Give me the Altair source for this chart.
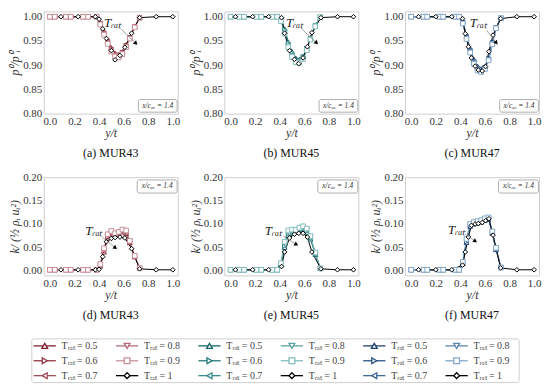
import altair as alt
import pandas as pd

# ---------------- data ----------------
AIRFOILS = ["MUR43", "MUR45", "MUR47"]
T_VALUES = ["0.5", "0.6", "0.7", "0.8", "0.9", "1"]
SHAPES = ["triangle-up", "triangle-right", "triangle-left", "triangle-down", "square", "diamond"]
COLORS = {
    "MUR43": ["#7d1f2c", "#8f3542", "#a04d59", "#b56b76", "#c98f98", "#000000"],
    "MUR45": ["#16666a", "#23787b", "#3a8b8d", "#5aa3a4", "#82bcbd", "#000000"],
    "MUR47": ["#1d3f6e", "#2a5282", "#3d6898", "#5b86b2", "#84a7cb", "#000000"],
}

X_BLACK = {
    "MUR43": [0.09, 0.23, 0.37, 0.40, 0.43, 0.46, 0.50, 0.53, 0.57, 0.61, 0.665, 0.73, 0.865, 1.0],
    "MUR45": [0.04, 0.18, 0.31, 0.415, 0.44, 0.48, 0.52, 0.555, 0.59, 0.625, 0.662, 0.735, 0.87, 1.0],
    "MUR47": [0.06, 0.20, 0.33, 0.418, 0.44, 0.466, 0.49, 0.52, 0.546, 0.578, 0.605, 0.632, 0.666, 0.728, 0.86, 1.0],
}
X_COLOURED = {
    "MUR43": [0.0, 0.04, 0.13, 0.17, 0.27, 0.31, 0.38, 0.41, 0.44, 0.47, 0.50, 0.53, 0.56, 0.59, 0.62, 0.65, 0.69, 0.73],
    "MUR45": [0.0, 0.07, 0.11, 0.21, 0.25, 0.34, 0.38, 0.41, 0.44, 0.47, 0.50, 0.53, 0.56, 0.59, 0.62, 0.65, 0.69, 0.73],
    "MUR47": [0.0, 0.10, 0.13, 0.23, 0.26, 0.36, 0.39, 0.42, 0.45, 0.48, 0.51, 0.54, 0.57, 0.60, 0.63, 0.66, 0.69, 0.73],
}

# total-pressure ratio p0/p0_i, T_rat = 0.5 ... 0.9, then 1
P_MUR43 = [
    [1, 1, 1, 1, 1, 1, 1, 0.988, 0.970, 0.952, 0.936, 0.925, 0.922, 0.928, 0.942, 0.958, 0.980, 0.998],
    [1, 1, 1, 1, 1, 1, 1, 0.987, 0.968, 0.950, 0.934, 0.923, 0.920, 0.926, 0.940, 0.957, 0.979, 0.998],
    [1, 1, 1, 1, 1, 1, 1, 0.986, 0.966, 0.948, 0.932, 0.921, 0.918, 0.925, 0.939, 0.956, 0.979, 0.998],
    [1, 1, 1, 1, 1, 1, 1, 0.985, 0.965, 0.946, 0.930, 0.919, 0.917, 0.924, 0.938, 0.955, 0.978, 0.998],
    [1, 1, 1, 1, 1, 1, 1, 0.984, 0.963, 0.944, 0.928, 0.918, 0.916, 0.923, 0.937, 0.955, 0.978, 0.998],
    [1.0, 1.0, 1.0, 0.995, 0.975, 0.955, 0.930, 0.911, 0.920, 0.937, 0.966, 0.998, 1.0, 1.0],
]
P_MUR45 = [
    [1, 1, 1, 1, 1, 1, 1, 0.995, 0.975, 0.948, 0.928, 0.915, 0.912, 0.918, 0.935, 0.955, 0.982, 0.999],
    [1, 1, 1, 1, 1, 1, 1, 0.994, 0.973, 0.945, 0.925, 0.913, 0.910, 0.917, 0.934, 0.955, 0.982, 0.999],
    [1, 1, 1, 1, 1, 1, 1, 0.993, 0.970, 0.942, 0.922, 0.910, 0.908, 0.915, 0.933, 0.954, 0.981, 0.999],
    [1, 1, 1, 1, 1, 1, 1, 0.992, 0.968, 0.940, 0.920, 0.908, 0.906, 0.914, 0.932, 0.953, 0.981, 0.999],
    [1, 1, 1, 1, 1, 1, 1, 0.991, 0.965, 0.937, 0.917, 0.906, 0.905, 0.913, 0.931, 0.953, 0.980, 0.999],
    [1.0, 1.0, 1.0, 0.998, 0.966, 0.930, 0.912, 0.903, 0.915, 0.938, 0.967, 0.998, 1.0, 1.0],
]
P_MUR47 = [
    [1, 1, 1, 1, 1, 1, 1, 0.990, 0.962, 0.935, 0.912, 0.898, 0.893, 0.897, 0.915, 0.948, 0.978, 0.997],
    [1, 1, 1, 1, 1, 1, 1, 0.989, 0.960, 0.932, 0.909, 0.895, 0.891, 0.895, 0.913, 0.946, 0.977, 0.997],
    [1, 1, 1, 1, 1, 1, 1, 0.988, 0.958, 0.930, 0.907, 0.893, 0.889, 0.894, 0.912, 0.945, 0.977, 0.997],
    [1, 1, 1, 1, 1, 1, 1, 0.987, 0.956, 0.928, 0.905, 0.891, 0.887, 0.893, 0.911, 0.944, 0.976, 0.997],
    [1, 1, 1, 1, 1, 1, 1, 0.986, 0.954, 0.926, 0.903, 0.889, 0.886, 0.892, 0.910, 0.943, 0.976, 0.997],
    [1.0, 1.0, 1.0, 0.996, 0.965, 0.938, 0.915, 0.898, 0.890, 0.888, 0.897, 0.928, 0.962, 0.996, 1.0, 1.0],
]

# turbulent kinetic energy k / (1/2 rho_i u_i^2)
K_MUR43 = [
    [0.002, 0.002, 0.002, 0.002, 0.002, 0.002, 0.002, 0.010, 0.040, 0.070, 0.080, 0.076, 0.079, 0.083, 0.080, 0.060, 0.030, 0.006],
    [0.002, 0.002, 0.002, 0.002, 0.002, 0.002, 0.002, 0.011, 0.042, 0.072, 0.081, 0.077, 0.080, 0.084, 0.081, 0.061, 0.030, 0.006],
    [0.002, 0.002, 0.002, 0.002, 0.002, 0.002, 0.002, 0.012, 0.044, 0.074, 0.082, 0.078, 0.082, 0.086, 0.082, 0.062, 0.031, 0.006],
    [0.002, 0.002, 0.002, 0.002, 0.002, 0.002, 0.002, 0.013, 0.046, 0.076, 0.084, 0.079, 0.083, 0.087, 0.084, 0.063, 0.031, 0.006],
    [0.002, 0.002, 0.002, 0.002, 0.002, 0.002, 0.002, 0.014, 0.048, 0.078, 0.085, 0.080, 0.083, 0.088, 0.086, 0.064, 0.032, 0.006],
    [0.002, 0.002, 0.002, 0.003, 0.030, 0.062, 0.069, 0.071, 0.072, 0.070, 0.047, 0.004, 0.002, 0.002],
]
K_MUR45 = [
    [0.002, 0.002, 0.002, 0.002, 0.002, 0.002, 0.002, 0.012, 0.050, 0.075, 0.080, 0.082, 0.084, 0.086, 0.082, 0.068, 0.035, 0.005],
    [0.002, 0.002, 0.002, 0.002, 0.002, 0.002, 0.002, 0.013, 0.053, 0.078, 0.082, 0.084, 0.087, 0.089, 0.085, 0.070, 0.036, 0.005],
    [0.002, 0.002, 0.002, 0.002, 0.002, 0.002, 0.002, 0.014, 0.056, 0.080, 0.084, 0.086, 0.089, 0.091, 0.087, 0.072, 0.037, 0.005],
    [0.002, 0.002, 0.002, 0.002, 0.002, 0.002, 0.002, 0.015, 0.059, 0.083, 0.086, 0.088, 0.091, 0.093, 0.089, 0.073, 0.038, 0.005],
    [0.002, 0.002, 0.002, 0.002, 0.002, 0.002, 0.002, 0.016, 0.062, 0.086, 0.088, 0.087, 0.092, 0.095, 0.090, 0.074, 0.039, 0.005],
    [0.002, 0.002, 0.002, 0.009, 0.040, 0.070, 0.078, 0.080, 0.080, 0.072, 0.040, 0.004, 0.002, 0.002],
]
K_MUR47 = [
    [0.002, 0.002, 0.002, 0.002, 0.002, 0.002, 0.002, 0.015, 0.060, 0.095, 0.100, 0.102, 0.104, 0.108, 0.110, 0.080, 0.045, 0.007],
    [0.002, 0.002, 0.002, 0.002, 0.002, 0.002, 0.002, 0.016, 0.062, 0.097, 0.101, 0.103, 0.105, 0.109, 0.111, 0.081, 0.046, 0.007],
    [0.002, 0.002, 0.002, 0.002, 0.002, 0.002, 0.002, 0.017, 0.064, 0.098, 0.102, 0.104, 0.106, 0.110, 0.112, 0.082, 0.047, 0.007],
    [0.002, 0.002, 0.002, 0.002, 0.002, 0.002, 0.002, 0.018, 0.066, 0.099, 0.103, 0.105, 0.107, 0.111, 0.113, 0.083, 0.048, 0.007],
    [0.002, 0.002, 0.002, 0.002, 0.002, 0.002, 0.002, 0.019, 0.068, 0.100, 0.104, 0.106, 0.108, 0.112, 0.114, 0.084, 0.049, 0.007],
    [0.002, 0.002, 0.002, 0.012, 0.040, 0.072, 0.097, 0.100, 0.101, 0.103, 0.107, 0.111, 0.076, 0.006, 0.002, 0.002],
]

P_DATA = {"MUR43": P_MUR43, "MUR45": P_MUR45, "MUR47": P_MUR47}
K_DATA = {"MUR43": K_MUR43, "MUR45": K_MUR45, "MUR47": K_MUR47}

CAPTIONS_P = ["(a) MUR43", "(b) MUR45", "(c) MUR47"]
CAPTIONS_K = ["(d) MUR43", "(e) MUR45", "(f) MUR47"]

# annotation placement (text pos, arrow start, arrow end, arrowhead angle)
ANN_P = {
    "MUR43": ((0.51, 0.988), (0.577, 0.975), (0.70, 0.945), 134),
    "MUR45": ((0.52, 0.988), (0.576, 0.976), (0.70, 0.946), 134),
    "MUR47": ((0.546, 0.988), (0.613, 0.972), (0.693, 0.946), 142),
}
ANN_K = {
    "MUR43": ((0.358, 0.085), (0.425, 0.072), (0.533, 0.049), 126),
    "MUR45": ((0.349, 0.085), (0.43, 0.074), (0.536, 0.056), 120),
    "MUR47": ((0.37, 0.087), (0.44, 0.078), (0.522, 0.063), 123),
}
BOX_P = (0.72, 1.035, 0.803, 0.829)
BOX_K = (0.71, 1.035, 0.166, 0.194)

SERIF = "Liberation Serif"

# ---------------- shared scales ----------------
keys, colors, shapes = [], [], []
for a in AIRFOILS:
    for i, t in enumerate(T_VALUES):
        keys.append(f"{a} {t}")
        colors.append(COLORS[a][i])
        shapes.append(SHAPES[i])
COLOR_SCALE = alt.Scale(domain=keys, range=colors)
SHAPE_SCALE = alt.Scale(domain=keys, range=shapes)


def build_df(airfoil, table):
    rows = []
    for i, t in enumerate(T_VALUES):
        xs = X_BLACK[airfoil] if t == "1" else X_COLOURED[airfoil]
        for x, y in zip(xs, table[airfoil][i]):
            rows.append({"key": f"{airfoil} {t}", "x": x, "y": y})
    return pd.DataFrame(rows)


def make_panel(airfoil, qty, caption):
    if qty == "p":
        table, ydom, yvals = P_DATA, [0.8, 1.011], [0.8, 0.85, 0.9, 0.95, 1.0]
        ytitle, height, ann, box = "p⁰/p⁰ᵢ", 103, ANN_P[airfoil], BOX_P
    else:
        table, ydom, yvals = K_DATA, [-0.01, 0.2], [0.0, 0.05, 0.1, 0.15, 0.2]
        ytitle, height, ann, box = "k/ (½ ρᵢ uᵢ²)", 99, ANN_K[airfoil], BOX_K

    X = alt.X("x:Q", scale=alt.Scale(domain=[-0.05, 1.04], nice=False, zero=False),
              axis=alt.Axis(values=[0, 0.2, 0.4, 0.6, 0.8, 1.0], format=".1f", title="y/t"))
    Y = alt.Y("y:Q", scale=alt.Scale(domain=ydom, nice=False, zero=False),
              axis=alt.Axis(values=yvals, format=".2f", title=ytitle))

    df = build_df(airfoil, table)
    lines = alt.Chart(df).mark_line(strokeWidth=1).encode(
        X, Y, color=alt.Color("key:N", scale=COLOR_SCALE, legend=None))
    pts = alt.Chart(df).mark_point(filled=False, fill="white", size=22, strokeWidth=1, opacity=1).encode(
        X, Y, color=alt.Color("key:N", scale=COLOR_SCALE, legend=None),
        shape=alt.Shape("key:N", scale=SHAPE_SCALE, legend=None))

    (tx, ty), (ax1, ay1), (ax2, ay2), ang = ann
    txt = alt.Chart(pd.DataFrame({"x": [tx], "y": [ty], "t": ["Tᵣₐₜ"]})).mark_text(
        font=SERIF, fontSize=13, fontStyle="italic", color="#222").encode(X, Y, text="t:N")
    arrow = alt.Chart(pd.DataFrame({"x": [ax1], "y": [ay1], "x2": [ax2], "y2": [ay2]})).mark_rule(
        color="#8a8a8a", strokeWidth=0.8).encode(X, Y, x2="x2:Q", y2="y2:Q")
    head = alt.Chart(pd.DataFrame({"x": [ax2], "y": [ay2]})).mark_point(
        shape="triangle-up", filled=True, color="black", size=22, angle=ang, opacity=1).encode(X, Y)

    bx1, bx2, by1, by2 = box
    rect = alt.Chart(pd.DataFrame({"x": [bx1], "x2": [bx2], "y": [by1], "y2": [by2]})).mark_rect(
        fill="white", stroke="#9a9a9a", strokeWidth=0.8, cornerRadius=2).encode(X, Y, x2="x2:Q", y2="y2:Q")
    btxt = alt.Chart(pd.DataFrame({"x": [(bx1 + bx2) / 2], "y": [(by1 + by2) / 2], "t": ["x/cₐₓ = 1.4"]})).mark_text(
        font=SERIF, fontSize=7.5, fontStyle="italic", color="#333").encode(X, Y, text="t:N")

    return alt.layer(lines, pts, arrow, head, txt, rect, btxt).properties(
        width=135, height=height,
        title=alt.TitleParams(caption, orient="bottom", offset=10, font=SERIF, fontSize=12,
                              fontWeight="normal", color="#111"))


panels = [make_panel(a, "p", c) for a, c in zip(AIRFOILS, CAPTIONS_P)]
panels += [make_panel(a, "k", c) for a, c in zip(AIRFOILS, CAPTIONS_K)]

# ---------------- legend ----------------
leg_rows = []
for ai, a in enumerate(AIRFOILS):
    for i, t in enumerate(T_VALUES):
        leg_rows.append({"key": f"{a} {t}", "col": 2 * ai + i // 3, "row": i % 3, "label": f"Tᵣₐₜ = {t}"})
leg_df = pd.DataFrame(leg_rows)
LX = alt.Scale(domain=[0, 5], range=[1, 416], nice=False, zero=False)
LY = alt.Scale(domain=[0, 2], range=[7, 37], nice=False, zero=False)

leg_box = alt.Chart(pd.DataFrame({"d": [0]})).mark_rect(
    fill="white", stroke="#cfcfcf", strokeWidth=1, cornerRadius=2).encode(
    x=alt.value(-12), x2=alt.value(479), y=alt.value(0), y2=alt.value(44))
leg_lines = alt.Chart(leg_df).transform_calculate(
    xl="datum.col - 0.135", xr="datum.col + 0.135").mark_rule(strokeWidth=1.3).encode(
    x=alt.X("xl:Q", scale=LX, axis=None), x2="xr:Q",
    y=alt.Y("row:Q", scale=LY, axis=None),
    color=alt.Color("key:N", scale=COLOR_SCALE, legend=None))
leg_pts = alt.Chart(leg_df).mark_point(filled=False, fill="white", size=34, strokeWidth=1.3, opacity=1).encode(
    x=alt.X("col:Q", scale=LX, axis=None), y=alt.Y("row:Q", scale=LY, axis=None),
    color=alt.Color("key:N", scale=COLOR_SCALE, legend=None),
    shape=alt.Shape("key:N", scale=SHAPE_SCALE, legend=None))
leg_txt = alt.Chart(leg_df).mark_text(align="left", dx=17, font=SERIF, fontSize=10, color="#444").encode(
    x=alt.X("col:Q", scale=LX, axis=None), y=alt.Y("row:Q", scale=LY, axis=None), text="label:N")
legend = alt.layer(leg_box, leg_lines, leg_pts, leg_txt).properties(
    width=135, height=44, view=alt.ViewBackground(strokeOpacity=0))

chart = alt.concat(
    *panels, legend, columns=3, align="none", bounds="flush",
    spacing=alt.RowColnumber(row=64, column=47),
).properties(padding=0).configure_view(
    stroke="#cfcfcf", strokeWidth=1
).configure_axis(
    domain=False, ticks=False, tickSize=0, grid=False,
    labelFont=SERIF, labelFontSize=11, labelColor="#333", labelPadding=2,
    titleFont=SERIF, titleFontSize=12, titleFontStyle="italic", titleFontWeight="normal",
    titleColor="#333", titlePadding=1,
)

chart.save("out.html", embed_options={"renderer": "svg", "actions": False})
